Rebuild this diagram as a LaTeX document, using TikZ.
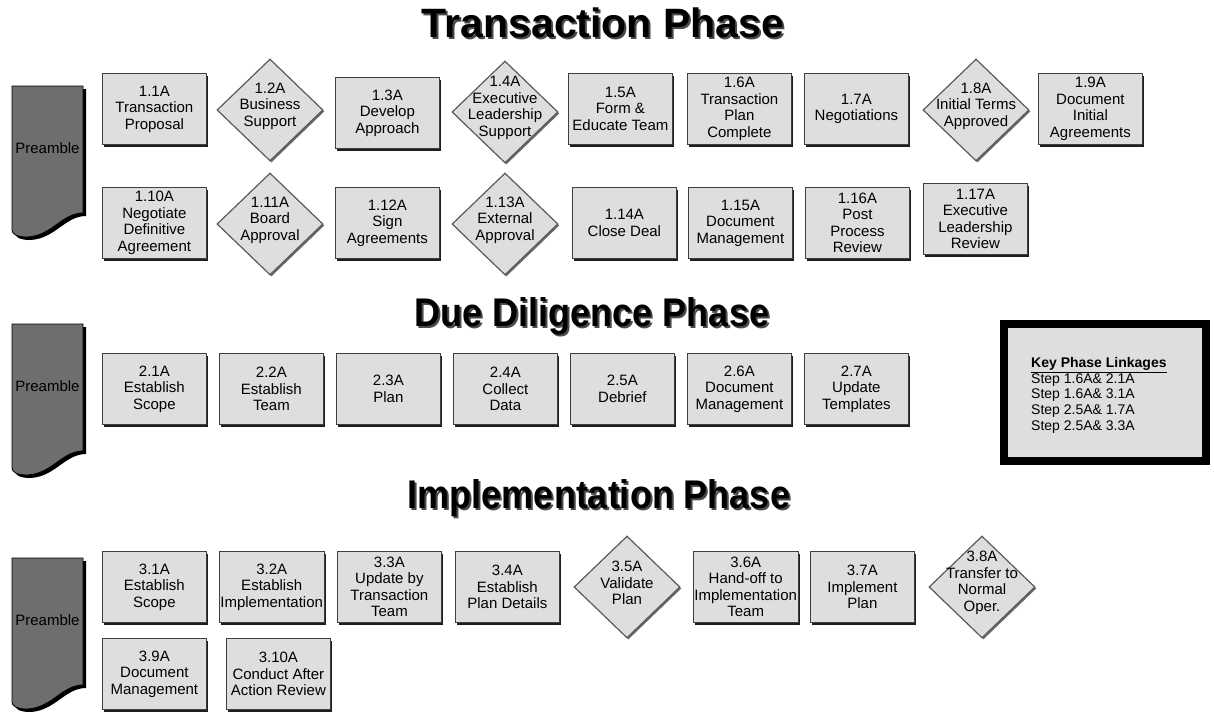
\documentclass[tikz,border=0pt]{standalone}
\usepackage{fontspec}
\setmainfont{Liberation Sans}
\newfontfamily\headfont[FakeStretch=0.9]{Liberation Sans}
\newfontfamily\headwidefont{Liberation Sans}
\usetikzlibrary{shapes.geometric,shadows}

\definecolor{boxfill}{HTML}{DEDEDE}
\definecolor{boxline}{HTML}{404040}
\definecolor{boxshadow}{HTML}{1E1E1E}
\definecolor{diamline}{HTML}{5A5A5A}
\definecolor{diamshadow}{HTML}{6A6A6A}
\definecolor{pregray}{HTML}{6E6E6E}
\definecolor{headshadow}{HTML}{4A4A4A}

% heading text with a soft offset copy behind it
\newcommand\shadowtext[1]{\makebox[0pt][l]{\hspace*{2pt}\raisebox{-2pt}{\color{headshadow}#1}}#1}

\begin{document}
\begin{tikzpicture}[x=1pt,y=-1pt,
  stepbox/.style={draw=boxline, line width=0.8pt, fill=boxfill,
    minimum width=104pt, minimum height=71pt, inner sep=1pt, align=center,
    anchor=north west, font=\fontsize{15}{16.5}\selectfont,
    drop shadow={shadow xshift=2pt, shadow yshift=-3pt, opacity=1, fill=boxshadow}},
  decision/.style={diamond, draw=diamline, line width=1.2pt, fill=boxfill,
    minimum width=106pt, minimum height=102pt, inner sep=0pt,
    drop shadow={shadow xshift=1.5pt, shadow yshift=-1.5pt, opacity=1, fill=diamshadow}},
  dtext/.style={inner sep=0pt, align=center, font=\fontsize{15}{16.5}\selectfont, yshift=4pt},
  phasetitle/.style={inner sep=0pt, anchor=base, font=\headfont\bfseries\fontsize{40}{44}\selectfont},
  widetitle/.style={phasetitle, font=\headwidefont\bfseries\fontsize{41}{45}\selectfont},
  pretext/.style={inner sep=0pt, font=\fontsize{15}{17}\selectfont},
  keyframe/.style={draw=black, line width=8pt, fill=boxfill, minimum width=202pt,
    minimum height=137pt, inner sep=0pt,
    drop shadow={shadow xshift=1.5pt, shadow yshift=-2pt, opacity=1, fill=boxline}},
  keytext/.style={inner sep=0pt, align=left, anchor=north west, font=\fontsize{14}{15.7}\selectfont},
  pics/preamble/.style={code={
    \fill[black] (3,3) -- (74,3) -- (74,130)
      .. controls (53,130) and (43,153) .. (18,154)
      .. controls (8,154) and (3,151) .. (3,147) -- cycle;
    \draw[black, line width=0.8pt, fill=pregray] (0,0) -- (71,0) -- (71,127)
      .. controls (50,127) and (40,150) .. (15,151)
      .. controls (5,151) and (0,148) .. (0,144) -- cycle;
    \node[pretext] (-label) at (35.5,62) {Preamble};
  }}]

\useasboundingbox (0,0) rectangle (1214,713);

% ---------------- phase headings ----------------
\node[widetitle]  (tTrans) at (603,37)  {\shadowtext{Transaction Phase}};
\node[phasetitle] (tDue)   at (592,326) {\shadowtext{Due Diligence Phase}};
\node[phasetitle] (tImpl)  at (599,508) {\shadowtext{Implementation Phase}};

% ---------------- preamble markers ----------------
\pic (pre1) at (12,86)  {preamble};
\pic (pre2) at (12,324) {preamble};
\pic (pre3) at (12,558) {preamble};

% ---------------- transaction phase ----------------
\node[stepbox] (n11) at (102,73) {1.1A\\Transaction\\Proposal};
\node[decision, label={[dtext]center:{1.2A\\Business\\Support}}] (n12) at (270,110) {};
\node[stepbox] (n13) at (335,77) {1.3A\\Develop\\Approach};
\node[decision, label={[dtext]center:{1.4A\\Executive\\Leadership\\Support}}] (n14) at (505,112) {};
\node[stepbox] (n15) at (568,73) {1.5A\\Form \&\\Educate Team};
\node[stepbox] (n16) at (687,73) {1.6A\\Transaction\\Plan\\Complete};
\node[stepbox] (n17) at (804,73) {1.7A\\Negotiations};
\node[decision, label={[dtext]center:{1.8A\\Initial Terms\\Approved}}] (n18) at (976,110) {};
\node[stepbox] (n19) at (1038,73) {1.9A\\Document\\Initial\\Agreements};

\node[stepbox] (n110) at (102,187) {1.10A\\Negotiate\\Definitive\\Agreement};
\node[decision, label={[dtext]center:{1.11A\\Board\\Approval}}] (n111) at (270,224) {};
\node[stepbox] (n112) at (335,187) {1.12A\\Sign\\Agreements};
\node[decision, label={[dtext]center:{1.13A\\External\\Approval}}] (n113) at (505,224) {};
\node[stepbox] (n114) at (572,187) {1.14A\\Close Deal};
\node[stepbox] (n115) at (688,187) {1.15A\\Document\\Management};
\node[stepbox] (n116) at (805,187) {1.16A\\Post\\Process\\Review};
\node[stepbox] (n117) at (923,183) {1.17A\\Executive\\Leadership\\Review};

% ---------------- due diligence phase ----------------
\node[stepbox] (n21) at (102,353) {2.1A\\Establish\\Scope};
\node[stepbox] (n22) at (219,353) {2.2A\\Establish\\Team};
\node[stepbox] (n23) at (336,353) {2.3A\\Plan};
\node[stepbox] (n24) at (453,353) {2.4A\\Collect\\Data};
\node[stepbox] (n25) at (570,353) {2.5A\\Debrief};
\node[stepbox] (n26) at (687,353) {2.6A\\Document\\Management};
\node[stepbox] (n27) at (804,353) {2.7A\\Update\\Templates};

% key of phase linkages
\node[keyframe] (key) at (1105,392.5) {};
\node[keytext] (keytxt) at (1031,357) {\textbf{\underline{Key Phase Linkages}}\\
  Step 1.6A\& 2.1A\\Step 1.6A\& 3.1A\\Step 2.5A\& 1.7A\\Step 2.5A\& 3.3A};

% ---------------- implementation phase ----------------
\node[stepbox] (n31) at (102,551) {3.1A\\Establish\\Scope};
\node[stepbox] (n32) at (219,551) {3.2A\\Establish\\Implementation};
\node[stepbox] (n33) at (337,551) {3.3A\\Update by\\Transaction\\Team};
\node[stepbox] (n34) at (455,551) {3.4A\\Establish\\Plan Details};
\node[decision, label={[dtext]center:{3.5A\\Validate\\Plan}}] (n35) at (627,587) {};
\node[stepbox] (n36) at (693,551) {3.6A\\Hand-off to\\Implementation\\Team};
\node[stepbox] (n37) at (810,551) {3.7A\\Implement\\Plan};
\node[decision, label={[dtext]center:{3.8A\\Transfer to\\Normal\\Oper.}}] (n38) at (982,587) {};

\node[stepbox] (n39)  at (102,638) {3.9A\\Document\\Management};
\node[stepbox] (n310) at (226,638) {3.10A\\Conduct After\\Action Review};

\end{tikzpicture}
\end{document}
